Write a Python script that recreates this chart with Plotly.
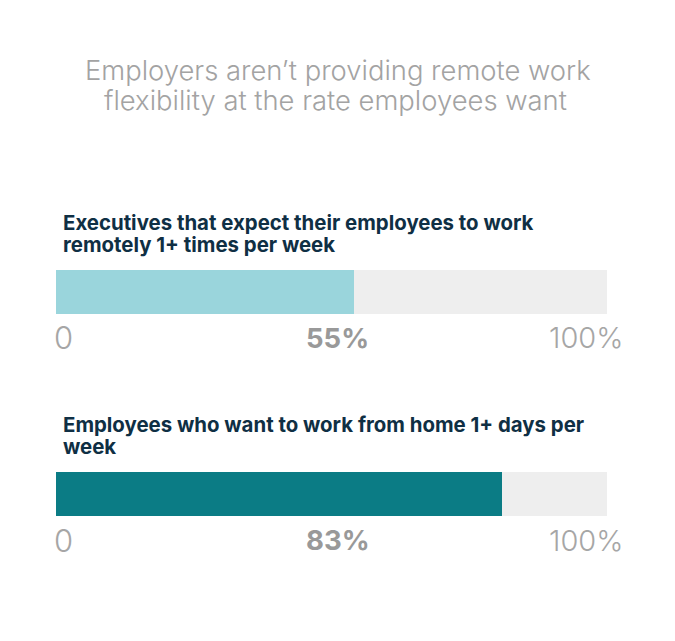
import plotly.graph_objects as go
from plotly.subplots import make_subplots

W, H = 675, 641
FONT = "Inter"

title_lines = ["Employers aren’t providing remote work", "flexibility at the rate employees want"]
questions = [
    ["Executives that expect their employees to work", "remotely 1+ times per week"],
    ["Employees who want to work from home 1+ days per", "week"],
]
# bar lengths as drawn in the picture, labels as printed
bar_values = [54, 81]
track_values = [100, 100]
value_labels = ["55%", "83%"]
axis_start = "0"
axis_end = "100%"
bar_colors = ["#9ad5dc", "#0b7c85"]
track_color = "#eeeeee"


def py(y):
    return 1 - y / H


def px(x):
    return x / W


fig = make_subplots(rows=2, cols=1)
bar_tops = [270, 472]
bar_h = 44

for i in range(2):
    row = i + 1
    fig.add_trace(go.Bar(x=[track_values[i]], y=[""], orientation="h",
                         marker=dict(color=track_color, line_width=0),
                         hoverinfo="skip", showlegend=False), row=row, col=1)
    fig.add_trace(go.Bar(x=[bar_values[i]], y=[""], orientation="h",
                         marker=dict(color=bar_colors[i], line_width=0),
                         showlegend=False), row=row, col=1)
    fig.update_xaxes(domain=[px(56), px(607)], range=[0, 100], visible=False, row=row, col=1)
    fig.update_yaxes(domain=[py(bar_tops[i] + bar_h), py(bar_tops[i])], visible=False, row=row, col=1)


def note(text, x, y, size, color, anchor="center", weight=400):
    fig.add_annotation(text=text, x=px(x), y=py(y), xref="paper", yref="paper",
                       xanchor=anchor, yanchor="middle", align="left" if anchor == "left" else "center",
                       showarrow=False, font=dict(family=FONT, size=size, color=color, weight=weight))


note(title_lines[0], 337.5, 70, 27.4, "#a3a3a3", weight=300)
note(title_lines[1], 335, 100, 27.4, "#a3a3a3", weight=300)

for i in range(2):
    note(questions[i][0], 61, bar_tops[i] - 48, 20.4, "#0f2f44", anchor="left", weight=700)
    note(questions[i][1], 61, bar_tops[i] - 25, 20.4, "#0f2f44", anchor="left", weight=700)
    note(axis_start, 52, bar_tops[i] + 68, 31, "#a6a6a6", anchor="left", weight=300)
    note(value_labels[i], 337.5, bar_tops[i] + 68, 27.5, "#999999", weight=700)
    note(axis_end, 625, bar_tops[i] + 68, 29, "#a6a6a6", anchor="right", weight=300)

fig.update_layout(width=W, height=H, margin=dict(l=0, r=0, t=0, b=0),
                  barmode="overlay", bargap=0,
                  paper_bgcolor="white", plot_bgcolor="white")

fig.write_html("out.html", config={"displayModeBar": False},
               post_script="document.body.style.margin='0';")
